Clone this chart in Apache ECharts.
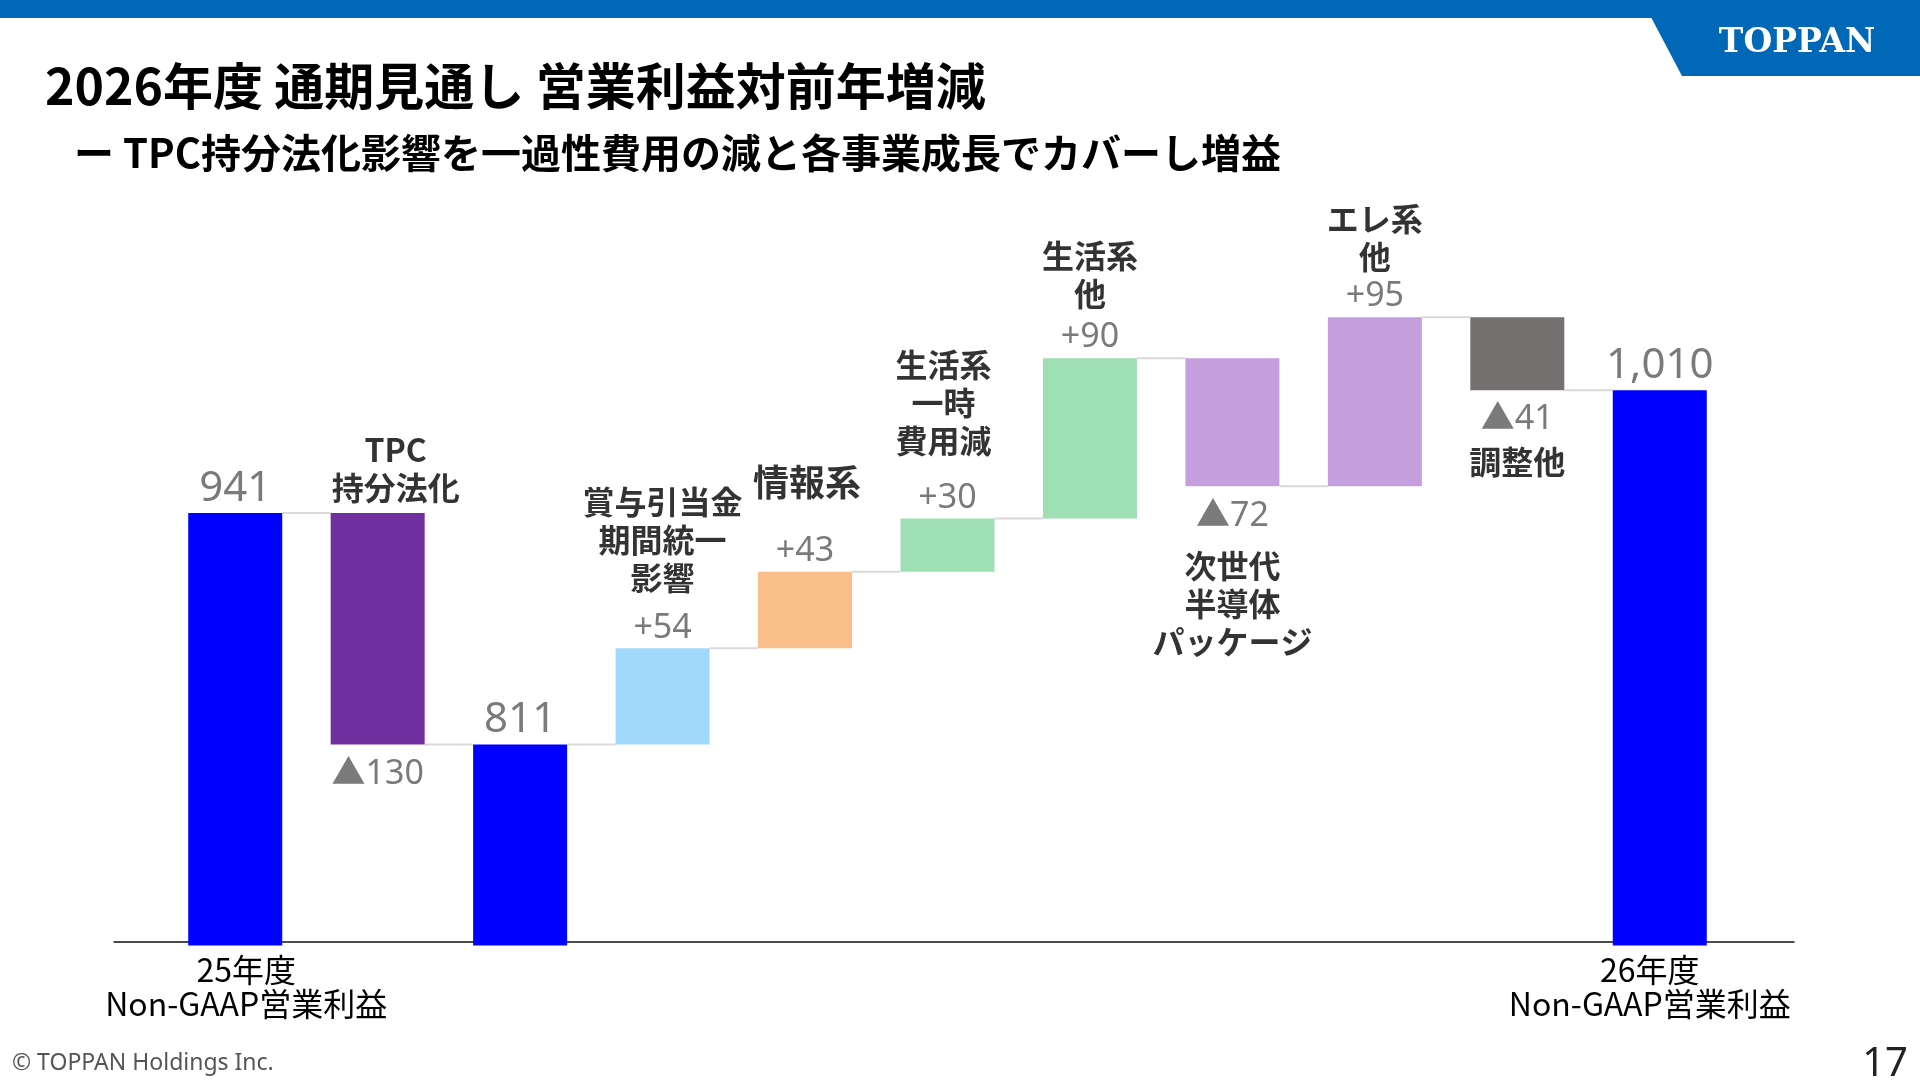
<!DOCTYPE html>
<html>
<head>
<meta charset="utf-8">
<title>2026年度 通期見通し 営業利益対前年増減</title>
<script src="https://cdn.jsdelivr.net/npm/echarts@6/dist/echarts.min.js"></script>
<style>
    html, body { margin: 0; padding: 0; background: #fff; }
    #chart { width: 1920px; height: 1080px; }
</style>
</head>
<body>
<div id="chart"></div>
<script>
    // bars in order, left to right (億円)
    var categories = ['25年度\nNon-GAAP営業利益', 'TPC\n持分法化', '', '賞与引当金\n期間統一\n影響', '情報系',
        '生活系\n一時\n費用減', '生活系\n他', '次世代\n半導体\nパッケージ', 'エレ系\n他', '調整他', '26年度\nNon-GAAP営業利益'];
    // totals: null where the bar is a change
    var totals = [941, null, 811, null, null, null, null, null, null, null, 1010];
    // changes: null where the bar is a total
    var changes = [null, -130, null, 54, 43, 30, 90, -72, 95, -41, null];

    // look of each bar / where its name goes
    var barColors = ['#0000ff', '#7030a0', '#0000ff', '#a0d9fb', '#f9be8a', '#9fdfb4', '#9fdfb4', '#c49edd', '#c49edd', '#767171', '#0000ff'];
    var namePos = ['axis', 'top', '', 'top', 'top', 'top', 'top', 'bottom', 'top', 'bottom', 'axis'];
    var nameDist = [0, 6, 0, 51, 70, 58, 45, 60, 41, 52, 0];
    var nameSize = [32, 32, 32, 32, 36, 32, 32, 32, 32, 32, 32];
    var nameDx = [0, 18, 0, 0, 2, -4, 0, 0, 0, 0, 0];

    var BAR_W = 94;
    var JP = '"Noto Sans CJK JP", "Noto Sans", sans-serif';
    var NUM = '"Noto Sans", "Noto Sans CJK JP", sans-serif';

    // waterfall arithmetic
    var lows = [], highs = [], levels = [];
    var run = 0;
    categories.forEach(function (c, i) {
        if (totals[i] != null) {
            lows.push(0);
            highs.push(totals[i]);
            run = totals[i];
        } else {
            lows.push(Math.min(run, run + changes[i]));
            highs.push(Math.max(run, run + changes[i]));
            run += changes[i];
        }
        levels.push(run);
    });

    function valueText(i) {
        if (totals[i] != null) return totals[i].toLocaleString('en-US');
        return changes[i] > 0 ? '+' + changes[i] : '▲' + Math.abs(changes[i]);
    }

    var baseData = lows.slice();
    var riseData = categories.map(function (c, i) {
        return {value: highs[i] - lows[i], itemStyle: {color: barColors[i]}};
    });

    var valueLabels = categories.map(function (c, i) {
        var down = totals[i] == null && changes[i] < 0;
        var isTotal = totals[i] != null;
        return {
            value: [i, down ? lows[i] : highs[i]],
            label: {
                position: down ? 'bottom' : 'top',
                distance: down ? 9 : (isTotal ? -1 : 0),
                formatter: valueText(i),
                fontSize: isTotal ? 42 : 34,
                lineHeight: isTotal ? 50 : 40
            }
        };
    });

    var nameLabels = [];
    categories.forEach(function (c, i) {
        if (namePos[i] !== 'top' && namePos[i] !== 'bottom') return;
        nameLabels.push({
            value: [i, namePos[i] === 'top' ? highs[i] : lows[i]],
            label: {
                position: namePos[i],
                distance: nameDist[i],
                offset: [nameDx[i], 0],
                fontSize: nameSize[i],
                formatter: c
            }
        });
    });

    var connectors = [];
    for (var k = 0; k < categories.length - 1; k++) {
        connectors.push([k, levels[k]]);
    }

    var option = {
        animation: false,
        backgroundColor: '#fff',
        title: [
            {
                text: '2026年度 通期見通し 営業利益対前年増減',
                left: 45, top: 61, padding: 0,
                textStyle: {fontSize: 50, fontWeight: 'bold', color: '#000', fontFamily: JP, lineHeight: 50}
            },
            {
                text: 'ー TPC持分法化影響を一過性費用の減と各事業成長でカバーし増益',
                left: 74, top: 133, padding: 0,
                textStyle: {fontSize: 40, fontWeight: 'bold', color: '#000', fontFamily: JP, lineHeight: 40}
            }
        ],
        grid: [
            {left: 164, right: 189, top: 230, bottom: 134.4},
            {left: 114, right: 126, top: 230, bottom: 138}
        ],
        xAxis: [
            {
                type: 'category',
                data: categories,
                gridIndex: 0,
                axisLine: {show: false},
                axisTick: {show: false},
                axisLabel: {
                    interval: 0, margin: 7, fontSize: 32, lineHeight: 34,
                    color: '#000', fontFamily: JP,
                    formatter: function (v, i) {
                        if (namePos[i] !== 'axis') return '';
                        var tag = i === 0 ? 'l' : 'r';
                        return v.split('\n').map(function (s) {
                            return '{' + tag + '|' + s + '}';
                        }).join('\n');
                    },
                    rich: {
                        l: {fontSize: 32, lineHeight: 34, color: '#000', fontFamily: JP, padding: [0, 0, 0, 22]},
                        r: {fontSize: 32, lineHeight: 34, color: '#000', fontFamily: JP, padding: [0, 20, 0, 0]}
                    }
                }
            },
            {
                type: 'value',
                gridIndex: 1,
                min: 0, max: 1,
                axisLine: {show: true, lineStyle: {color: '#111', width: 1.5}},
                axisTick: {show: false},
                axisLabel: {show: false},
                splitLine: {show: false}
            }
        ],
        yAxis: [
            {type: 'value', gridIndex: 0, min: 698, max: 1100, show: false, splitLine: {show: false}},
            {type: 'value', gridIndex: 1, min: 0, max: 1, show: false, splitLine: {show: false}}
        ],
        series: [
            {
                name: 'base',
                type: 'bar',
                stack: 'wf',
                barWidth: BAR_W,
                silent: true,
                itemStyle: {color: 'rgba(0,0,0,0)'},
                data: baseData
            },
            {
                name: 'change',
                type: 'bar',
                stack: 'wf',
                barWidth: BAR_W,
                silent: true,
                data: riseData
            },
            {
                name: 'connector',
                type: 'custom',
                silent: true,
                z: 1,
                renderItem: function (params, api) {
                    var p = api.coord([api.value(0), api.value(1)]);
                    var band = api.size([1, 0])[0];
                    return {
                        type: 'line',
                        shape: {x1: p[0] + BAR_W / 2, y1: p[1], x2: p[0] + band - BAR_W / 2, y2: p[1]},
                        style: {stroke: '#d9d9d9', lineWidth: 2}
                    };
                },
                data: connectors
            },
            {
                name: 'values',
                type: 'scatter',
                silent: true,
                symbolSize: 1,
                itemStyle: {color: 'rgba(0,0,0,0)'},
                label: {show: true, color: '#595959', fontFamily: NUM},
                data: valueLabels
            },
            {
                name: 'names',
                type: 'scatter',
                silent: true,
                symbolSize: 1,
                itemStyle: {color: 'rgba(0,0,0,0)'},
                label: {show: true, color: '#000', fontWeight: 'bold', fontFamily: JP, lineHeight: 38, align: 'center'},
                data: nameLabels
            }
        ],
        graphic: [
            {type: 'rect', shape: {x: 0, y: 0, width: 1920, height: 18}, style: {fill: '#0068b7'}},
            {type: 'polygon', shape: {points: [[1642, 0], [1920, 0], [1920, 76], [1682, 76]]}, style: {fill: '#0068b7'}},
            {
                type: 'text', x: 1797, y: 43,
                style: {text: 'TOPPAN', fill: '#fff', font: 'bold 33px "DejaVu Serif"', align: 'center', verticalAlign: 'middle', textAlign: 'center', textVerticalAlign: 'middle'}
            },
            {
                type: 'text', x: 12, y: 1063,
                style: {text: '© TOPPAN Holdings Inc.', fill: '#555', font: '23px "Noto Sans"', verticalAlign: 'middle', textVerticalAlign: 'middle'}
            },
            {
                type: 'text', x: 1908, y: 1065,
                style: {text: '17', fill: '#222', font: '40px "Noto Sans"', align: 'right', verticalAlign: 'middle', textAlign: 'right', textVerticalAlign: 'middle'}
            }
        ]
    };

    var myChart = echarts.init(document.getElementById('chart'));
    myChart.setOption(option);
</script>
</body>
</html>
